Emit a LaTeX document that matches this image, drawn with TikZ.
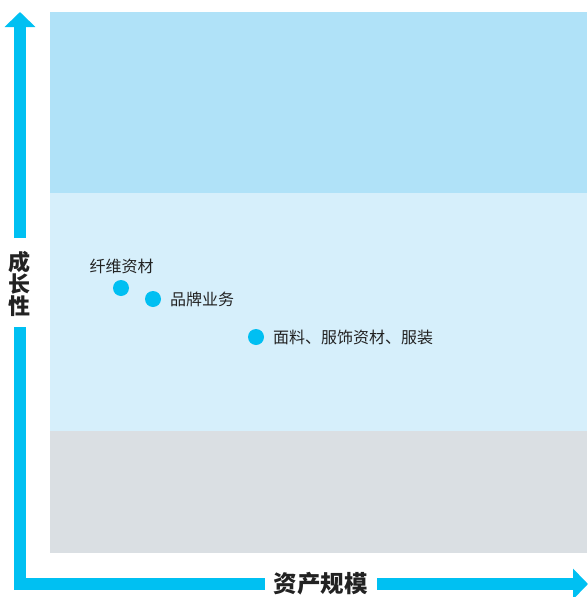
\documentclass[tikz,border=0pt]{standalone}
\usepackage{fontspec}
\setmainfont{Noto Sans CJK SC}
\usetikzlibrary{arrows.meta}
\definecolor{axisblue}{HTML}{00C0F2}
\definecolor{bandtop}{HTML}{B0E2F8}
\definecolor{bandmid}{HTML}{D6EFFB}
\definecolor{bandlow}{HTML}{DADFE3}
\definecolor{dotblue}{HTML}{00BFF2}
\definecolor{txt}{HTML}{222222}
\tikzset{
  axisline/.style={draw=axisblue, line width=12pt, line join=miter},
  axishead/.style={-{Triangle[width=30pt,length=15pt]}},
  axislabel/.style={font=\fontsize{23.5}{25}\selectfont\bfseries, text=txt, inner sep=0pt},
  dotnode/.style={circle, fill=dotblue, minimum size=16pt, inner sep=0pt},
  itemlabel/.style={font=\fontsize{16}{18}\selectfont, text=txt, inner sep=0pt}
}
\begin{document}
\begin{tikzpicture}[x=1pt,y=-1pt]
\useasboundingbox (0,0) rectangle (587,597);
% bands
\fill[bandtop] (50,12) rectangle (587,193);
\fill[bandmid] (50,193) rectangle (587,431);
\fill[bandlow] (50,431) rectangle (587,553);
% axes labels
\node[axislabel, align=center, font=\fontsize{22}{24}\selectfont\bfseries] (ylab) at (20,284) {成\\[-2pt]长\\[-2pt]性};
\node[axislabel] (xlab) at (320.5,584) {资产规模};
\coordinate (ytop) at (20,12);
\coordinate (ygapTop) at (20,238);
\coordinate (ygapBot) at (20,327);
\coordinate (corner) at (20,584);
\coordinate (xgapL) at (265,584);
\coordinate (xgapR) at (377,584);
\coordinate (xend) at (588,584);
\draw[axisline, axishead] (ygapTop) -- (ytop);
\draw[axisline] (ygapBot) -- (corner) -- (xgapL);
\draw[axisline, axishead] (xgapR) -- (xend);
% dots
\node[dotnode] (d1) at (121,288) {};
\node[dotnode] (d2) at (153,299) {};
\node[dotnode] (d3) at (256,337) {};
\node[itemlabel] (l1) at (121.5,266) {纤维资材};
\node[itemlabel, anchor=west] (l2) at (170,299) {品牌业务};
\node[itemlabel, anchor=west] (l3) at (273,337) {面料、服饰资材、服装};
\end{tikzpicture}
\end{document}
